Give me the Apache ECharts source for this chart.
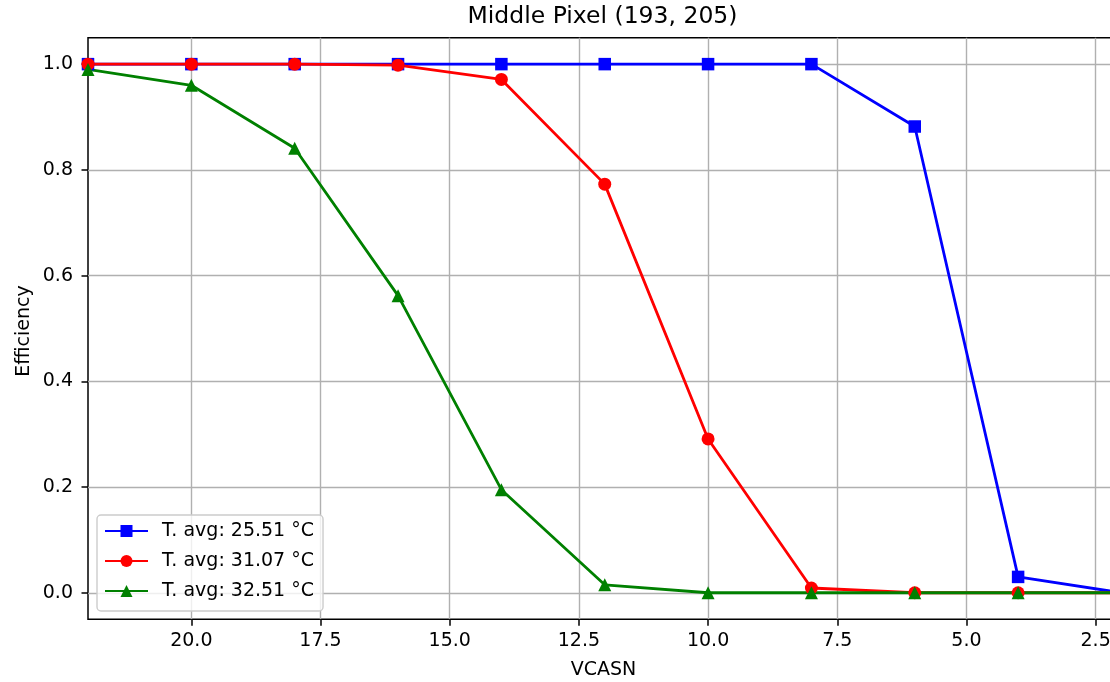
<!DOCTYPE html>
<html>
<head>
<meta charset="utf-8">
<title>Middle Pixel (193, 205)</title>
<script src="https://cdn.jsdelivr.net/npm/echarts@6/dist/echarts.min.js"></script>
<style>
  html, body { margin: 0; padding: 0; background: #ffffff; }
  #chart { width: 1110px; height: 682px; }
</style>
</head>
<body>
<div id="chart"></div>
<script>
// VCASN settings scanned for the middle pixel
const vcasn = [22, 20, 18, 16, 14, 12, 10, 8, 6, 4, 2];

// Efficiency at each VCASN, one array per average temperature
const eff2551 = [1.0, 1.0, 1.0, 1.0, 1.0, 1.0, 1.0, 1.0, 0.882, 0.030, 0.0];
const eff3107 = [1.0, 1.0, 1.0, 0.998, 0.971, 0.773, 0.291, 0.009, 0.0, 0.0, 0.0];
const eff3251 = [0.990, 0.960, 0.841, 0.562, 0.195, 0.015, 0.0, 0.0, 0.0, 0.0, 0.0];

const seriesNames = ['T. avg: 25.51 °C', 'T. avg: 31.07 °C', 'T. avg: 32.51 °C'];

// Tick positions on each axis
const xTicks = [20, 17.5, 15, 12.5, 10, 7.5, 5, 2.5];
const yTicks = [0, 0.2, 0.4, 0.6, 0.8, 1.0];

const titleText = 'Middle Pixel (193, 205)';
const xLabel = 'VCASN';
const yLabel = 'Efficiency';

const FONT = '"DejaVu Sans", "Liberation Sans", sans-serif';
const TEXT = '#000000';

function pairs(xs, ys) {
  return xs.map((x, i) => [x, ys[i]]);
}

function lineSeries(name, values, color, symbol, size) {
  return {
    name: name,
    type: 'line',
    data: pairs(vcasn, values),
    symbol: symbol,
    symbolSize: size,
    showAllSymbol: true,
    clip: true,
    lineStyle: { color: color, width: 2.8 },
    itemStyle: { color: color, borderWidth: 0 },
    emphasis: { disabled: true },
    animation: false
  };
}

const chart = echarts.init(document.getElementById('chart'), null, { renderer: 'canvas' });

// The plot area runs past the right edge of the page: VCASN 0 sits off-canvas.
chart.setOption({
  backgroundColor: '#ffffff',
  animation: false,
  grid: {
    left: 88,
    top: 37.7,
    width: 1136.8,
    height: 581.5,
    outerBoundsMode: 'none',
    containLabel: false,
    show: true,
    borderColor: '#000000',
    borderWidth: 1.5,
    backgroundColor: 'transparent'
  },
  xAxis: {
    type: 'value',
    inverse: true,
    min: 0,
    max: 22,
    interval: 2.5,
    axisLine: { show: false, onZero: false },
    axisTick: {
      show: true, inside: false, length: 6.5,
      customValues: xTicks,
      lineStyle: { color: '#000000', width: 1.5 }
    },
    axisLabel: {
      margin: 12,
      fontFamily: FONT,
      fontSize: 19,
      color: TEXT,
      customValues: xTicks,
      formatter: function (v) { return v.toFixed(1); }
    },
    splitLine: { show: true, lineStyle: { color: '#b0b0b0', width: 1.4 } }
  },
  yAxis: {
    type: 'value',
    min: -0.05,
    max: 1.05,
    splitNumber: 5,
    axisLine: { show: false, onZero: false },
    axisTick: {
      show: true, inside: false, length: 6.5,
      customValues: yTicks,
      lineStyle: { color: '#000000', width: 1.5 }
    },
    axisLabel: {
      margin: 15,
      fontFamily: FONT,
      fontSize: 19,
      color: TEXT,
      customValues: yTicks,
      formatter: function (v) { return v.toFixed(1); }
    },
    splitLine: { show: true, lineStyle: { color: '#b0b0b0', width: 1.4 } }
  },
  legend: {
    orient: 'vertical',
    left: 97,
    top: 515,
    data: seriesNames,
    itemWidth: 43,
    itemHeight: 15,
    itemGap: 10,
    padding: [6, 9, 10, 7],
    backgroundColor: 'rgba(255,255,255,0.8)',
    borderColor: '#cccccc',
    borderWidth: 1.4,
    borderRadius: 4,
    selectedMode: false,
    textStyle: {
      fontFamily: FONT,
      fontSize: 19,
      lineHeight: 20,
      color: TEXT,
      padding: [0, 0, 0, 9]
    }
  },
  graphic: [
    {
      type: 'text',
      x: 602.5,
      y: 17,
      style: {
        text: titleText,
        fontFamily: FONT,
        fontSize: 23.5,
        fill: TEXT,
        align: 'center',
        verticalAlign: 'middle'
      }
    },
    {
      type: 'text',
      x: 603.5,
      y: 670,
      style: {
        text: xLabel,
        fontFamily: FONT,
        fontSize: 19,
        fill: TEXT,
        align: 'center',
        verticalAlign: 'middle'
      }
    },
    {
      type: 'text',
      x: 24,
      y: 331,
      rotation: Math.PI / 2,
      style: {
        text: yLabel,
        fontFamily: FONT,
        fontSize: 19,
        fill: TEXT,
        align: 'center',
        verticalAlign: 'middle'
      }
    }
  ],
  series: [
    lineSeries(seriesNames[0], eff2551, '#0000ff', 'rect', 12.5),
    lineSeries(seriesNames[1], eff3107, '#ff0000', 'circle', 13),
    lineSeries(seriesNames[2], eff3251, '#008000', 'triangle', 13)
  ]
});
</script>
</body>
</html>
